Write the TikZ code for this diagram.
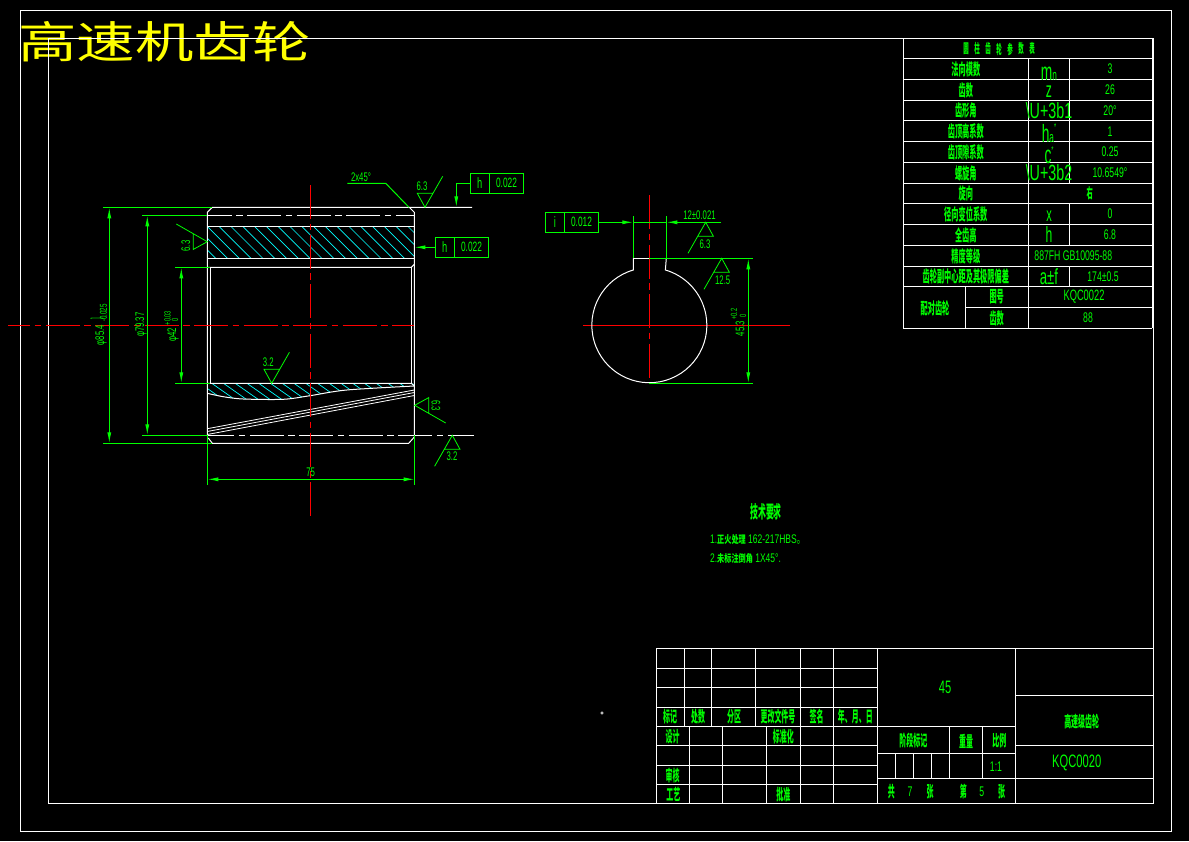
\documentclass[tikz,border=0pt]{standalone}
\usepackage{fontspec}
\newfontfamily\cjkf{Noto Sans CJK SC}
\newfontfamily\latinf{Liberation Sans}
\usetikzlibrary{arrows.meta}
\usetikzlibrary{positioning}
\definecolor{cadgreen}{HTML}{00FF00}
\definecolor{cadcyan}{HTML}{00FFFF}
\definecolor{cadred}{HTML}{FF0000}
\definecolor{cadyellow}{HTML}{FFFF00}
\newcommand{\fsz}[1]{\fontsize{#1}{#1}\selectfont}
\tikzset{
    outline/.style={white, line width=1pt},
    dimline/.style={cadgreen, line width=1pt},
    hatchline/.style={cadcyan, line width=0.7pt},
    centerline/.style={cadred, line width=1pt, dash pattern=on 34pt off 4.5pt on 6.5pt off 4.5pt},
    pitchline/.style={white, line width=1pt, dash pattern=on 34pt off 4.5pt on 6.5pt off 4.5pt},
    latinbase/.style={cadgreen, font=\latinf, inner sep=0pt},
    latintext/.style={latinbase, xscale=0.62},
    cjkbase/.style={cadgreen, font=\cjkf\bfseries, inner sep=0pt},
    cjktext/.style={cjkbase, xscale=0.45},
    tolcell/.style={draw=cadgreen, line width=1pt, minimum height=20pt, inner sep=0pt, outer sep=0pt},
}
\begin{document}
\begin{tikzpicture}[x=1pt, y=-1pt, >={Latex[length=11pt,width=4pt]}]
    \useasboundingbox[fill=black] (0,0) rectangle (1189,841);

    % Heading
    \node[text=cadyellow, font=\cjkf\fsz{44}, xscale=1.33, inner sep=0pt] (heading) at (164.5,41.5) {高速机齿轮};

    % Sheet frames
    \draw[outline] (20.3,10.3) rectangle (1171,831);
    \draw[outline] (48.3,38.3) rectangle (1153.3,803.3);

    % Hatching, upper section
    \begin{scope}
        \clip (207.3,226.3) rectangle (414.3,258.3);
        \foreach \k in {0,...,20}
            \draw[hatchline] ({183.6+11.8*\k},226.3) -- ++(33,33);
    \end{scope}

    % Hatching, lower section
    \begin{scope}
        \clip plot[smooth] coordinates {(207.3,393.3) (223.3,396.7) (243.3,399) (283.3,399.3) (310,395.7) (346.7,390) (414.3,386)} -- (414.3,383.3) -- (207.3,383.3) -- cycle;
        \foreach \k in {-1,...,17}
            \draw[hatchline] ({211.7+11.75*\k},383.3) -- ++(35,24.5);
    \end{scope}

    % Gear body
    \draw[outline] (207.3,435.3) -- (207.3,212.3) -- (212.3,207.3) -- (472,207.3);
    \draw[outline] (409.3,207.3) -- (414.3,212.3) -- (414.3,437) -- (408.7,443.3) -- (212.3,443.3) -- (208.3,438);
    \draw[outline] (207.3,226.3) -- (414.3,226.3);
    \draw[outline] (207.3,258.3) -- (414.3,258.3);
    \draw[outline] (207.3,267.3) -- (411.3,267.3) -- (414.3,264.3);
    \draw[outline] (207.3,383.3) -- (411.3,383.3) -- (414.3,386);
    \draw[outline] (210.3,267.3) -- (210.3,383.3);
    \draw[outline] (411.3,267.3) -- (411.3,383.3);
    \draw[outline] plot[smooth] coordinates {(207.3,393.3) (223.3,396.7) (243.3,399) (283.3,399.3) (310,395.7) (346.7,390) (414.3,386)};
    \foreach \ya/\yb in {428.7/390,431.5/392.5,434.5/395.5}
        \draw[outline, line width=0.8pt] (207.3,\ya) -- (414.3,\yb);
    \draw[pitchline, dash phase=9.5pt] (207.3,215.3) -- (414.3,215.3);
    \draw[pitchline, dash phase=7pt] (207.3,435.3) -- (474,435.3);

    % Centre lines
    \draw[centerline] (310.3,185) -- (310.3,519);
    \draw[centerline, dash phase=12pt] (8,325.3) -- (414.3,325.3);

    % Extension lines and diameters
    \draw[dimline] (103,207.3) -- (212,207.3);
    \draw[dimline] (142,215.3) -- (207.3,215.3);
    \draw[dimline] (175,267.3) -- (210.3,267.3);
    \draw[dimline] (175,383.3) -- (210.3,383.3);
    \draw[dimline] (142,435.3) -- (207.3,435.3);
    \draw[dimline] (103,443.3) -- (212,443.3);
    \draw[dimline, <->] (109.3,207.3) -- (109.3,443.3);
    \draw[dimline, <->] (147.3,215.3) -- (147.3,435.3);
    \draw[dimline, <->] (181.3,267.3) -- (181.3,383.3);
    \node[rotate=90, latintext] (diaouter) at (101,335) {\fsz{12.5}φ85.4};
    \node[rotate=90, latintext] (diaouterlow) at (103.5,313) {\fsz{10}-0.025};
    \node[rotate=90, latinbase, xscale=0.15] (diaouterup) at (97,319) {\fsz{19}0};
    \node[rotate=90, latintext] (diapitch) at (141,324.7) {\fsz{12.5}φ79.37};
    \node[rotate=90, latintext] (diabore) at (173,335) {\fsz{12.5}φ42};
    \node[rotate=90, latintext] (diaboreup) at (167.5,318) {\fsz{9}+0.03};
    \node[rotate=90, latintext] (diaborelow) at (175,320) {\fsz{9}0};

    % Face width
    \draw[dimline] (207.3,435.3) -- (207.3,485);
    \draw[dimline] (414.7,435.3) -- (414.7,485);
    \draw[dimline, <->] (207.3,479.3) -- (414.7,479.3);
    \node[latintext] (facewidth) at (310.7,472.7) {\fsz{12.5}75};

    % Chamfer note
    \coordinate (chamfertip) at (409,207.3);
    \node[latintext] (chamfer) at (361,177) {\fsz{12.5}2x45°};
    \draw[dimline] (347.3,183.3) -- (385.7,183.3) -- (chamfertip);

    % Tolerance frames
    \node[tolcell, minimum width=19pt] (toptola) at (479.8,183.3) {};
    \node[tolcell, minimum width=34.4pt, right=0pt of toptola] (toptolb) {};
    \node[latintext] (toptolsym) at (toptola) {\fsz{15}h};
    \node[latintext] (toptolval) at (toptolb) {\fsz{13.5}0.022};
    \coordinate (toptoltip) at (456.3,207.3);
    \draw[dimline, ->] (toptola.west) -| (toptoltip);

    \node[tolcell, minimum width=19pt] (sidetola) at (444.8,247.3) {};
    \node[tolcell, minimum width=34.4pt, right=0pt of sidetola] (sidetolb) {};
    \node[latintext] (sidetolsym) at (sidetola) {\fsz{15}h};
    \node[latintext] (sidetolval) at (sidetolb) {\fsz{13.5}0.022};
    \coordinate (sidetoltip) at (414.3,247.3);
    \draw[dimline, ->] (sidetola.west) -- (sidetoltip);

    \node[tolcell, minimum width=19pt] (keytola) at (554.8,222.3) {};
    \node[tolcell, minimum width=34.4pt, right=0pt of keytola] (keytolb) {};
    \node[latintext] (keytolsym) at (keytola) {\fsz{15}i};
    \node[latintext] (keytolval) at (keytolb) {\fsz{13.5}0.012};

    % Key way view
    \draw[cadred, line width=0.8pt] (583.3,325.3) -- (790,325.3);
    \draw[centerline, line width=0.8pt] (649.3,195) -- (649.3,382);
    \draw[outline] (633.3,258.3) -- (633.3,270) arc[start angle=253.8, end angle=-73.8, radius=57.5] -- (666.3,258.3);
    \draw[outline] (633.3,258.3) -- (649.3,258.3);

    % Key way dimensions
    \coordinate (keyleft) at (633.3,222.3);
    \coordinate (keyright) at (666.3,222.3);
    \draw[dimline, ->] (keytolb.east) -- (keyleft);
    \draw[dimline] (keyleft) -- (keyright);
    \draw[dimline, ->] (721,222.3) -- (keyright);
    \draw[dimline] (633.3,216) -- (633.3,258.3);
    \draw[dimline] (666.3,216) -- (666.3,258.3);
    \draw[dimline] (649.3,258.3) -- (753,258.3);
    \draw[dimline] (649.3,383.3) -- (753,383.3);
    \draw[dimline, <->] (748.3,258.3) -- (748.3,383.3);
    \node[latintext] (keywidth) at (699.5,215.3) {\fsz{12.5}12±0.021};
    \node[rotate=90, latintext] (keydepth) at (740,328.5) {\fsz{12.5}45.3};
    \node[rotate=90, latintext] (keydepthup) at (734,314) {\fsz{9}+0.2};
    \node[rotate=90, latintext] (keydepthlow) at (743,316) {\fsz{9}0};

    % Surface finish marks
    \foreach \ax/\ay/\rot/\lx/\ly/\lrot/\ltxt [count=\i] in {
        425/207.3/0/422/186/0/6.3,
        271.7/383.3/0/268.3/362/0/3.2,
        207.3/241.7/90/185.7/246/90/6.3,
        414.7/405.3/-90/436/405.7/-90/6.3,
        452.3/435.3/180/452/456.3/0/3.2,
        705.7/222.3/180/705/244/0/6.3,
        721.7/258.3/180/722.7/280/0/12.5} {
        \begin{scope}[shift={(\ax,\ay)}, rotate=\rot]
            \draw[dimline, line width=0.8pt] (17.7,-31) -- (0,0) -- (-7.7,-14) -- (7.7,-14);
        \end{scope}
        \node[rotate=\lrot, latintext] (finish\i) at (\lx,\ly) {\fsz{12.5}\ltxt};
    }

    % Parameter table
    \foreach \ry in {38.3,58.3,79.3,100.3,120.7,141.3,162.3,183.3,203.3,224.3,245.3,266.3,286.3,328.3}
        \draw[outline] (903.3,\ry) -- (1152.3,\ry);
    \draw[outline] (965.3,307.3) -- (1152.3,307.3);
    \draw[outline] (903.3,38.3) -- (903.3,328.3);
    \draw[outline] (1152.3,38.3) -- (1152.3,328.3);
    \draw[outline] (1028.3,58.3) -- (1028.3,328.3);
    \draw[outline] (965.3,286.3) -- (965.3,328.3);
    \draw[outline] (1069.3,58.3) -- (1069.3,183.3);
    \draw[outline] (1069.3,203.3) -- (1069.3,245.3);
    \draw[outline] (1069.3,266.3) -- (1069.3,286.3);

    \foreach \ch [count=\i] in {圆,柱,齿,轮,参,数,表}
        \node[cjkbase, xscale=0.42] (paramtitle\i) at ({955+11*\i},49) {\fsz{13}\ch};
    \foreach \ry/\lbl [count=\i] in {69/法向模数,90/齿数,110.5/齿形角,131/齿顶高系数,152/齿顶隙系数,173/螺旋角,193.5/旋向,214/径向变位系数,235/全齿高,256/精度等级,276.5/齿轮副中心距及其极限偏差}
        \node[cjktext] (paramname\i) at (965.8,\ry) {\fsz{16}\lbl};
    \node[cjktext] (pairname) at (935,308) {\fsz{16}配对齿轮};
    \node[cjktext] (pairdrawing) at (996.7,297) {\fsz{16}图号};
    \node[cjktext] (pairteeth) at (996.7,318) {\fsz{16}齿数};

    \node[latinbase, xscale=0.55] (symmn) at (1049,74) {\fsz{25}m{\fsz{15}n}};
    \node[latinbase, xscale=0.55] (symz) at (1049,92) {\fsz{22}z};
    \node[latinbase, xscale=0.65] (symalpha) at (1049,111) {\fsz{22}\textbackslash U+3b1};
    \node[latinbase, xscale=0.55] (symha) at (1049,133) {\fsz{25}h{\fsz{15}a}\raisebox{12pt}{\fsz{10}*}};
    \node[latinbase, xscale=0.55] (symc) at (1049,155) {\fsz{25}c\raisebox{10pt}{\fsz{10}*}};
    \node[latinbase, xscale=0.65] (symbeta) at (1049,173) {\fsz{22}\textbackslash U+3b2};
    \node[latinbase, xscale=0.55] (symx) at (1049,216) {\fsz{20}x};
    \node[latinbase, xscale=0.55] (symh) at (1049,235) {\fsz{22}h};
    \node[latinbase, xscale=0.6] (symaf) at (1049,277) {\fsz{22}a±f};

    \foreach \ry/\val [count=\i] in {69/3,90/26,111/20°,131.5/1,152/0.25,172.5/10.6549°,214/0,235/6.8}
        \node[latintext] (paramval\i) at (1110,\ry) {\fsz{14}\val};
    \node[cjktext] (paramhand) at (1089.7,193.5) {\fsz{14}右};
    \node[latintext] (paramgrade) at (1073.3,256) {\fsz{14}887FH GB10095-88};
    \node[latintext] (paramcentre) at (1103,276.7) {\fsz{14}174±0.5};
    \node[latintext] (pairdrawingval) at (1084,297) {\fsz{15}KQC0022};
    \node[latintext] (pairteethval) at (1088,318) {\fsz{14}88};

    % Technical notes
    \node[cjktext] (notes) at (766,511.7) {\fsz{17.5}技术要求};
    \node[latinbase, xscale=0.68, anchor=west] (noteone) at (710,540) {\fsz{12.5}1.{\cjkf\bfseries\fsz{10.5}正火处理} 162-217HBS{\cjkf 。}};
    \node[latinbase, xscale=0.68, anchor=west] (notetwo) at (710,558.7) {\fsz{12.5}2.{\cjkf\bfseries\fsz{10.5}未标注倒角} 1X45°.};
    \draw[outline, line width=0.5pt] (602,713) circle (1.3);

    % Title block
    \foreach \ry in {648.3,668.3,687.3,707.7,726.7,745.7,765.7,784.7}
        \draw[outline] (656.3,\ry) -- (877.3,\ry);
    \foreach \cx in {684.3,711.3,755.3}
        \draw[outline] (\cx,648.3) -- (\cx,726.7);
    \foreach \cx in {689.3,722.3,766.3}
        \draw[outline] (\cx,726.7) -- (\cx,803.3);
    \foreach \cx in {800.3,833.3}
        \draw[outline] (\cx,648.3) -- (\cx,803.3);
    \draw[outline] (656.3,648.3) -- (656.3,803.3);
    \draw[outline] (877.3,648.3) -- (877.3,803.3);
    \draw[outline] (1015.3,648.3) -- (1015.3,803.3);
    \draw[outline] (877.3,648.3) -- (1153.3,648.3);
    \draw[outline] (1015.3,695.3) -- (1153.3,695.3);
    \draw[outline] (1015.3,745.3) -- (1153.3,745.3);
    \draw[outline] (877.3,778) -- (1153.3,778);
    \draw[outline] (877.3,726.3) -- (1015.3,726.3);
    \draw[outline] (877.3,753.3) -- (1015.3,753.3);
    \draw[outline] (949.3,726.3) -- (949.3,778);
    \draw[outline] (982.3,726.3) -- (982.3,778);
    \foreach \cx in {895.3,913.3,931.3}
        \draw[outline] (\cx,753.3) -- (\cx,778);

    \foreach \cx/\cy/\lbl [count=\i] in {670/717/标记,698/717/处数,734/717/分区,778/717/更改文件号,816.7/717/签名,855.3/717/年、月、日,672.7/737/设计,783.3/736.7/标准化,672.7/775/审核,673.3/794.3/工艺,783.3/794.3/批准,913.3/741/阶段标记,966/741/重量,999.3/741/比例,1081.7/721.7/高速级齿轮,891.3/791.7/共,930/791.7/张,963.3/791.7/第,1001.7/791.7/张}
        \node[cjktext] (blockname\i) at (\cx,\cy) {\fsz{15.5}\lbl};
    \node[latintext] (material) at (945,687.7) {\fsz{18}45};
    \node[latintext] (drawingno) at (1076.7,762.7) {\fsz{18}KQC0020};
    \node[latintext] (scaleval) at (996,766.7) {\fsz{14}1:1};
    \node[latintext] (sheettotal) at (910,791.7) {\fsz{14}7};
    \node[latintext] (sheetno) at (981.7,791.7) {\fsz{14}5};
\end{tikzpicture}
\end{document}
